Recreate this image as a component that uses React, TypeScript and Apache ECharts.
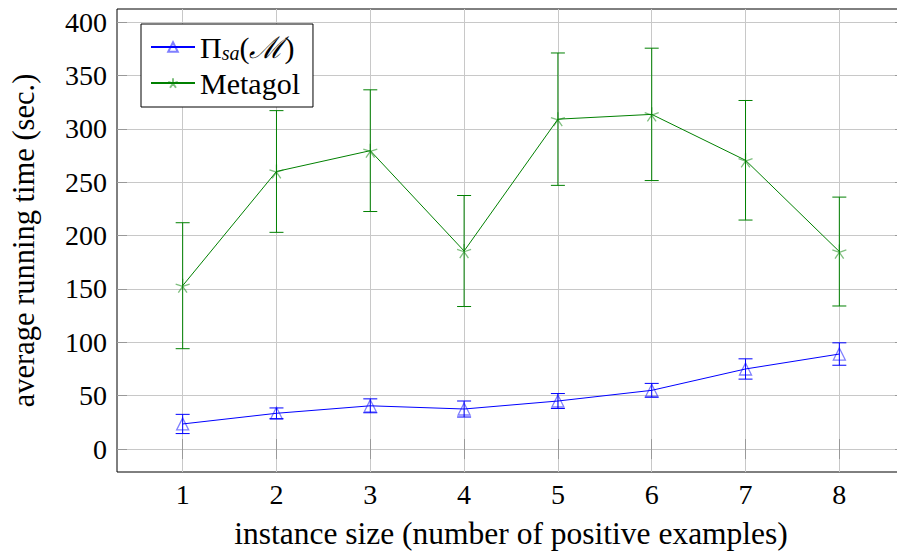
import React, { useEffect, useRef } from 'react';
import * as echarts from 'echarts';

// ---- data ----
const xValues = [1, 2, 3, 4, 5, 6, 7, 8];
const piMean = [23.5, 33.5, 40.5, 37.5, 45, 55, 75, 89];
const piErr = [9, 5, 6.5, 7.5, 7, 6.5, 9.5, 10.5];
const metaMean = [153, 260, 279.5, 185.5, 309, 313.5, 270.5, 185];
const metaErr = [59, 57, 57, 52, 62, 62, 56, 51];
const xTicks = [1, 2, 3, 4, 5, 6, 7, 8];
const yTicks = [0, 50, 100, 150, 200, 250, 300, 350, 400];

const FONT = 'Liberation Serif';
const BLUE = '#0000ff';
const GREEN = '#008000';
const STAR =
  'path://M0,0L0,-1M0,0L-0.951,-0.309M0,0L-0.588,0.809M0,0L0.588,0.809M0,0L0.951,-0.309';

function errorSeries(name: string, mean: number[], err: number[], color: string) {
  return {
    type: 'custom',
    name,
    xAxisIndex: 0,
    yAxisIndex: 0,
    data: xValues.map((x, i) => [x, mean[i] - err[i], mean[i] + err[i]]),
    encode: { x: 0, y: [1, 2] },
    z: 3,
    silent: true,
    renderItem: (params: any, api: any) => {
      const x = api.value(0);
      const lo = api.coord([x, api.value(1)]);
      const hi = api.coord([x, api.value(2)]);
      const w = 7;
      const style = { stroke: color, lineWidth: 1, fill: 'none' };
      return {
        type: 'group',
        children: [
          { type: 'line', shape: { x1: lo[0], y1: lo[1], x2: hi[0], y2: hi[1] }, style },
          { type: 'line', shape: { x1: lo[0] - w, y1: lo[1], x2: lo[0] + w, y2: lo[1] }, style },
          { type: 'line', shape: { x1: hi[0] - w, y1: hi[1], x2: hi[0] + w, y2: hi[1] }, style },
        ],
      };
    },
  };
}

export default function App() {
  const ref = useRef<HTMLDivElement>(null);

  useEffect(() => {
    if (!ref.current) return;
    const chart = echarts.init(ref.current, null, { renderer: 'svg' });

    const tickStyle = { show: true, inside: true, length: 10, lineStyle: { color: '#999', width: 1 } };

    const option: any = {
      animation: false,
      backgroundColor: '#fff',
      textStyle: { fontFamily: FONT },
      grid: {
        left: 117,
        right: -8,
        top: 9,
        bottom: 80,
        show: true,
        borderColor: '#000',
        borderWidth: 1,
        backgroundColor: 'transparent',
        containLabel: false,
        outerBoundsMode: 'none',
      },
      legend: {
        data: ['Pi', 'Metagol'],
        orient: 'vertical',
        left: 141,
        top: 24,
        padding: [7, 13, 8, 9],
        itemGap: 4,
        itemWidth: 44,
        itemHeight: 12,
        backgroundColor: '#fff',
        borderColor: '#000',
        borderWidth: 1,
        borderRadius: 0,
        selectedMode: false,
        formatter: (name: string) =>
          name === 'Pi' ? '{a|Π}{s|sa}{a|(}{m|ℳ}{a|)}' : '{a|Metagol}',
        textStyle: {
          fontFamily: FONT,
          fontSize: 30,
          color: '#000',
          lineHeight: 32,
          rich: {
            a: { fontFamily: FONT, fontSize: 30, color: '#000', lineHeight: 32 },
            s: {
              fontFamily: FONT,
              fontSize: 20,
              fontStyle: 'italic',
              color: '#000',
              lineHeight: 20,
              padding: [12, 0, 0, 0],
            },
            m: { fontFamily: FONT, fontSize: 30, fontStyle: 'italic', color: '#000', lineHeight: 32 },
          },
        },
      },
      xAxis: [
        {
          type: 'value',
          position: 'bottom',
          min: 0.3,
          max: 8.7,
          name: 'instance size (number of positive examples)',
          nameLocation: 'middle',
          nameGap: 45,
          nameTextStyle: { fontFamily: FONT, fontSize: 31.5, color: '#000' },
          axisLine: { show: false },
          axisTick: { ...tickStyle, customValues: xTicks },
          axisLabel: {
            customValues: xTicks,
            fontFamily: FONT,
            fontSize: 28,
            color: '#000',
            margin: 8,
          },
          splitLine: { show: true, lineStyle: { color: '#c8c8c8', width: 1 } },
        },
        {
          type: 'value',
          position: 'top',
          min: 0.3,
          max: 8.7,
          axisLine: { show: false },
          axisTick: { ...tickStyle, customValues: xTicks },
          axisLabel: { show: false },
          splitLine: { show: false },
        },
      ],
      yAxis: [
        {
          type: 'value',
          position: 'left',
          min: -21.5,
          max: 412.2,
          name: 'average running time (sec.)',
          nameLocation: 'middle',
          nameGap: 78,
          nameTextStyle: { fontFamily: FONT, fontSize: 30.5, color: '#000' },
          axisLine: { show: false },
          axisTick: { ...tickStyle, customValues: yTicks },
          axisLabel: {
            customValues: yTicks,
            fontFamily: FONT,
            fontSize: 28,
            color: '#000',
            margin: 10,
          },
          splitLine: { show: true, lineStyle: { color: '#c8c8c8', width: 1 } },
        },
        {
          type: 'value',
          position: 'right',
          min: -21.5,
          max: 412.2,
          axisLine: { show: false },
          axisTick: { ...tickStyle, customValues: yTicks },
          axisLabel: { show: false },
          splitLine: { show: false },
        },
      ],
      series: [
        errorSeries('PiErr', piMean, piErr, BLUE),
        errorSeries('MetagolErr', metaMean, metaErr, GREEN),
        {
          type: 'line',
          name: 'Pi',
          data: xValues.map((x, i) => [x, piMean[i]]),
          symbol: 'triangle',
          symbolSize: 12,
          showAllSymbol: true,
          lineStyle: { color: BLUE, width: 1 },
          itemStyle: { color: 'rgba(255,255,255,0)', borderColor: 'rgba(0,0,255,0.5)', borderWidth: 1.3 },
          z: 4,
        },
        {
          type: 'line',
          name: 'Metagol',
          data: xValues.map((x, i) => [x, metaMean[i]]),
          symbol: STAR,
          symbolSize: 14,
          showAllSymbol: true,
          lineStyle: { color: GREEN, width: 1 },
          itemStyle: { color: 'rgba(255,255,255,0)', borderColor: 'rgba(0,128,0,0.5)', borderWidth: 1.3 },
          z: 4,
        },
      ],
    };

    chart.setOption(option);
    return () => chart.dispose();
  }, []);

  return (
    <div
      ref={ref}
      style={{ position: 'fixed', left: 0, top: 0, width: 897, height: 552 }}
    />
  );
}
